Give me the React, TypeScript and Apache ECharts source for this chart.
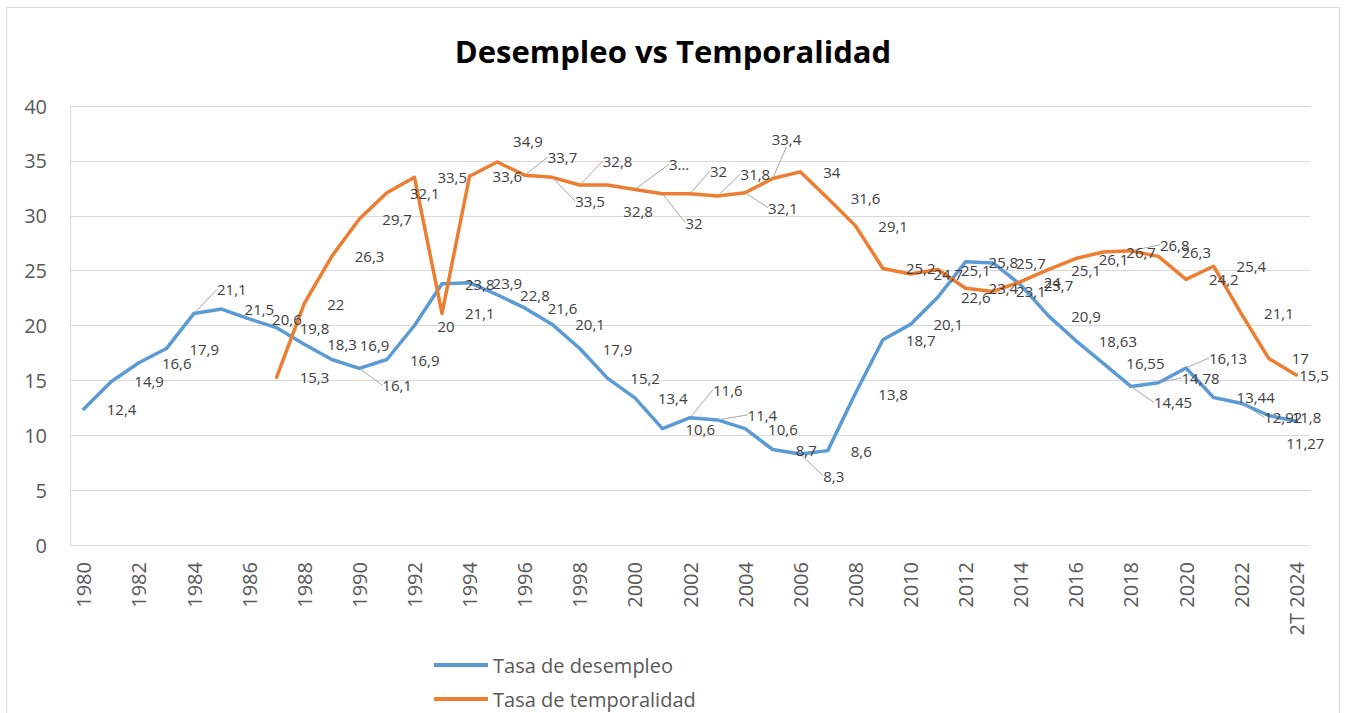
import React, { useEffect, useRef } from 'react';
import * as echarts from 'echarts';

const categories = [
  '1980', '1981', '1982', '1983', '1984', '1985', '1986', '1987', '1988', '1989',
  '1990', '1991', '1992', '1993', '1994', '1995', '1996', '1997', '1998', '1999',
  '2000', '2001', '2002', '2003', '2004', '2005', '2006', '2007', '2008', '2009',
  '2010', '2011', '2012', '2013', '2014', '2015', '2016', '2017', '2018', '2019',
  '2020', '2021', '2022', '2023', '2T 2024',
];

const desempleo = [
  12.4, 14.9, 16.6, 17.9, 21.1, 21.5, 20.6, 19.8, 18.3, 16.9,
  16.1, 16.9, 20, 23.8, 23.9, 22.8, 21.6, 20.1, 17.9, 15.2,
  13.4, 10.6, 11.6, 11.4, 10.6, 8.7, 8.3, 8.6, 13.8, 18.7,
  20.1, 22.6, 25.8, 25.7, 23.7, 20.9, 18.63, 16.55, 14.45, 14.78,
  16.13, 13.44, 12.92, 11.8, 11.27,
];

const temporalidad = [
  null, null, null, null, null, null, null, 15.3, 22, 26.3,
  29.7, 32.1, 33.5, 21.1, 33.6, 34.9, 33.7, 33.5, 32.8, 32.8,
  32.4, 32, 32, 31.8, 32.1, 33.4, 34, 31.6, 29.1, 25.2,
  24.7, 25.1, 23.4, 23.1, 24, 25.1, 26.1, 26.7, 26.8, 26.3,
  24.2, 25.4, 21.1, 17, 15.5,
];

const seriesNames = ['Tasa de desempleo', 'Tasa de temporalidad'];
const titleText = 'Desempleo vs Temporalidad';
const yTicks = { min: 0, max: 40, interval: 5 };

// label text overrides (truncated labels as shown in the original)
const temporalidadLabelOverrides: Record<number, string> = { 20: '3...' };

// label displacement (dx, dy) in pixels relative to default right-side position
const blueMoves: Record<number, [number, number]> = {
  4: [0, -24], 9: [5, -15], 10: [0, 17], 22: [0, -28], 23: [7, -5], 26: [0, 22],
  38: [0, 16], 39: [0, -5], 40: [0, -10], 42: [0, 14], 43: [0, 2], 44: [-33, 22],
};
const orangeMoves: Record<number, [number, number]> = {
  15: [-7, -21], 16: [0, -18], 17: [0, 24], 18: [0, -24], 19: [-7, 26], 20: [11, -25],
  21: [0, 29], 22: [-3, -23], 23: [0, -22], 24: [0, 15], 25: [-24, -39],
  38: [6, -6], 39: [0, -4], 44: [-20, 0],
};
// which moved labels carry a leader line
const blueLeaders = [4, 10, 22, 23, 26, 38, 39, 40, 42];
const orangeLeaders = [16, 17, 18, 20, 21, 22, 23, 24, 25, 38];

const BLUE = '#5B9BD5';
const ORANGE = '#ED7D31';
const FONT = '"Open Sans", "Noto Sans", sans-serif';

const fmt = (v: number) => String(v).replace('.', ',');

const withLeaders = (values: (number | null)[], leaders: number[]) =>
  values.map((v, i) =>
    leaders.includes(i) && v != null ? { value: v, labelLine: { show: true } } : v
  );

export default function App() {
  const ref = useRef<HTMLDivElement>(null);

  useEffect(() => {
    if (!ref.current) return;
    const chart = echarts.init(ref.current, undefined, { renderer: 'svg' });

    const labelBase = {
      show: true,
      position: 'right' as const,
      distance: 22,
      fontSize: 15,
      color: '#404040',
      fontFamily: FONT,
    };
    const labelLine = { show: false, lineStyle: { color: '#A6A6A6', width: 1 } };
    const legendText = { fontSize: 20, color: '#595959', fontFamily: FONT, lineHeight: 20 };
    const legendBase = {
      orient: 'horizontal',
      left: 434,
      padding: 0,
      icon: 'rect',
      itemWidth: 54,
      itemHeight: 4,
      textStyle: legendText,
    };

    chart.setOption({
      animation: false,
      textStyle: { fontFamily: FONT },
      title: {
        text: titleText,
        left: 'center',
        top: 30,
        textStyle: { fontSize: 31, fontWeight: 'bold', color: '#000000', fontFamily: FONT },
      },
      graphic: [
        {
          type: 'rect',
          shape: { x: 6.5, y: 7.5, width: 1333, height: 720 },
          style: { fill: 'none', stroke: '#D9D9D9', lineWidth: 1 },
          silent: true,
          z: -1,
        },
      ],
      legend: [
        { ...legendBase, top: 655, data: [seriesNames[0]] },
        { ...legendBase, top: 689, data: [seriesNames[1]] },
      ],
      grid: { left: 70, right: 36, top: 106, bottom: 168, containLabel: false },
      xAxis: {
        type: 'category',
        data: categories,
        boundaryGap: true,
        axisLine: { show: true, lineStyle: { color: '#D9D9D9', width: 1 } },
        axisTick: { show: false },
        axisLabel: {
          interval: 1,
          rotate: 90,
          fontSize: 20,
          color: '#595959',
          margin: 17,
          fontFamily: FONT,
        },
        splitLine: { show: false },
      },
      yAxis: {
        type: 'value',
        min: yTicks.min,
        max: yTicks.max,
        interval: yTicks.interval,
        axisLine: { show: true, lineStyle: { color: '#D9D9D9', width: 1 } },
        axisTick: { show: false },
        axisLabel: { fontSize: 20, color: '#595959', margin: 23, fontFamily: FONT },
        splitLine: { show: true, lineStyle: { color: '#D9D9D9', width: 1 } },
      },
      series: [
        {
          name: seriesNames[0],
          type: 'line',
          data: withLeaders(desempleo, blueLeaders),
          symbol: 'circle',
          symbolSize: 2,
          showSymbol: true,
          itemStyle: { color: BLUE },
          lineStyle: { color: BLUE, width: 3.5, cap: 'round', join: 'round' },
          label: { ...labelBase, formatter: (p: any) => fmt(p.value) },
          labelLine,
          labelLayout: (p: any) => {
            const m = blueMoves[p.dataIndex];
            return m ? { dx: m[0], dy: m[1] } : {};
          },
        },
        {
          name: seriesNames[1],
          type: 'line',
          data: withLeaders(temporalidad, orangeLeaders),
          symbol: 'circle',
          symbolSize: 2,
          showSymbol: true,
          itemStyle: { color: ORANGE },
          lineStyle: { color: ORANGE, width: 3.5, cap: 'round', join: 'round' },
          label: {
            ...labelBase,
            formatter: (p: any) =>
              temporalidadLabelOverrides[p.dataIndex] ?? fmt(p.value),
          },
          labelLine,
          labelLayout: (p: any) => {
            const m = orangeMoves[p.dataIndex];
            return m ? { dx: m[0], dy: m[1] } : {};
          },
        },
      ],
    });

    return () => chart.dispose();
  }, []);

  return (
    <div
      ref={ref}
      style={{ position: 'fixed', left: 0, top: 0, width: 1346, height: 713, background: '#ffffff' }}
    />
  );
}
